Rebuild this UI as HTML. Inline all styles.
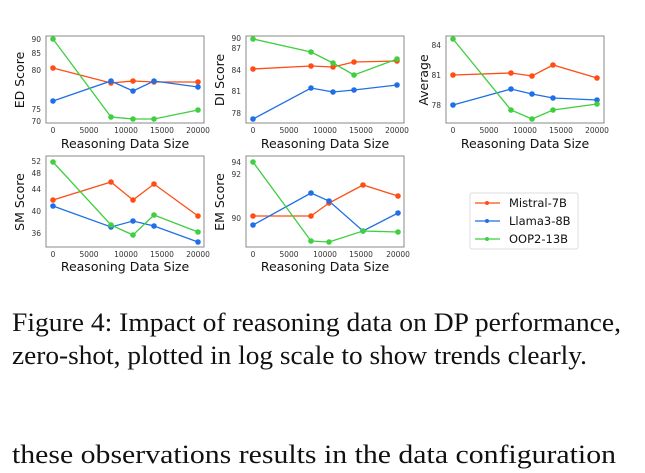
<!DOCTYPE html>
<html><head><meta charset="utf-8"><style>
body{margin:0;background:#fff;width:645px;height:473px;overflow:hidden}
svg{position:absolute;left:0;top:0}
.t{font-family:"DejaVu Sans",sans-serif;font-size:7.5px;fill:#333}
.l{font-family:"DejaVu Sans",sans-serif;font-size:12.5px;fill:#111}
.c{font-family:"Liberation Serif",serif;font-size:26px;fill:#111}
.o{stroke:#ff4d14;fill:none;stroke-width:1.3}
.b{stroke:#1f6fe8;fill:none;stroke-width:1.3}
.g{stroke:#3fcf3f;fill:none;stroke-width:1.3}
.fo{fill:#ff4d14}.fb{fill:#1f6fe8}.fg{fill:#3fcf3f}
.ax{fill:none;stroke:#888;stroke-width:1}
</style></head><body>
<svg width="645" height="473" xmlns="http://www.w3.org/2000/svg">
<!-- Panel 1 -->
<rect class="ax" x="46" y="36" width="158" height="87"/>
<g class="t" text-anchor="end"><text x="41" y="42">90</text><text x="41" y="56">85</text><text x="41" y="73">80</text><text x="41" y="112">75</text><text x="41" y="124">70</text></g>
<g class="t" text-anchor="middle"><text x="53" y="133">0</text><text x="89" y="133">5000</text><text x="126" y="133">10000</text><text x="162" y="133">15000</text><text x="198" y="133">20000</text></g>
<text class="l" x="125" y="148" text-anchor="middle">Reasoning Data Size</text>
<text class="l" transform="translate(24,80) rotate(-90)" text-anchor="middle">ED Score</text>
<polyline class="o" points="53,68 111,83 133,81 154,82 198,82"/>
<polyline class="b" points="53,101 111,81 133,91 154,81 198,87"/>
<polyline class="g" points="53,39 111,117 133,119 154,119 198,110"/>
<g class="fo"><circle cx="53" cy="68" r="2.8"/><circle cx="111" cy="83" r="2.8"/><circle cx="133" cy="81" r="2.8"/><circle cx="154" cy="82" r="2.8"/><circle cx="198" cy="82" r="2.8"/></g>
<g class="fb"><circle cx="53" cy="101" r="2.8"/><circle cx="111" cy="81" r="2.8"/><circle cx="133" cy="91" r="2.8"/><circle cx="154" cy="81" r="2.8"/><circle cx="198" cy="87" r="2.8"/></g>
<g class="fg"><circle cx="53" cy="39" r="2.8"/><circle cx="111" cy="117" r="2.8"/><circle cx="133" cy="119" r="2.8"/><circle cx="154" cy="119" r="2.8"/><circle cx="198" cy="110" r="2.8"/></g>

<!-- Panel 2 -->
<rect class="ax" x="246" y="36" width="158" height="87"/>
<g class="t" text-anchor="end"><text x="241" y="41">90</text><text x="241" y="51">87</text><text x="241" y="73">84</text><text x="241" y="94">81</text><text x="241" y="116">78</text></g>
<g class="t" text-anchor="middle"><text x="253" y="133">0</text><text x="289" y="133">5000</text><text x="325" y="133">10000</text><text x="361" y="133">15000</text><text x="397" y="133">20000</text></g>
<text class="l" x="325" y="148" text-anchor="middle">Reasoning Data Size</text>
<text class="l" transform="translate(224,80) rotate(-90)" text-anchor="middle">DI Score</text>
<polyline class="o" points="253,69 311,66 333,67 354,62 397,61"/>
<polyline class="b" points="253,119 311,88 333,92 354,90 397,85"/>
<polyline class="g" points="253,39 311,52 333,63 354,75 397,59"/>
<g class="fo"><circle cx="253" cy="69" r="2.8"/><circle cx="311" cy="66" r="2.8"/><circle cx="333" cy="67" r="2.8"/><circle cx="354" cy="62" r="2.8"/><circle cx="397" cy="61" r="2.8"/></g>
<g class="fb"><circle cx="253" cy="119" r="2.8"/><circle cx="311" cy="88" r="2.8"/><circle cx="333" cy="92" r="2.8"/><circle cx="354" cy="90" r="2.8"/><circle cx="397" cy="85" r="2.8"/></g>
<g class="fg"><circle cx="253" cy="39" r="2.8"/><circle cx="311" cy="52" r="2.8"/><circle cx="333" cy="63" r="2.8"/><circle cx="354" cy="75" r="2.8"/><circle cx="397" cy="59" r="2.8"/></g>

<!-- Panel 3 -->
<rect class="ax" x="446" y="36" width="158" height="87"/>
<g class="t" text-anchor="end"><text x="441" y="48">84</text><text x="441" y="78">81</text><text x="441" y="108">78</text></g>
<g class="t" text-anchor="middle"><text x="453" y="133">0</text><text x="489" y="133">5000</text><text x="525" y="133">10000</text><text x="561" y="133">15000</text><text x="597" y="133">20000</text></g>
<text class="l" x="525" y="148" text-anchor="middle">Reasoning Data Size</text>
<text class="l" transform="translate(428,80) rotate(-90)" text-anchor="middle">Average</text>
<polyline class="o" points="453,75 511,73 532,76 553,65 597,78"/>
<polyline class="b" points="453,105 511,89 532,94 553,98 597,100"/>
<polyline class="g" points="453,39 511,110 532,119 553,110 597,104"/>
<g class="fo"><circle cx="453" cy="75" r="2.8"/><circle cx="511" cy="73" r="2.8"/><circle cx="532" cy="76" r="2.8"/><circle cx="553" cy="65" r="2.8"/><circle cx="597" cy="78" r="2.8"/></g>
<g class="fb"><circle cx="453" cy="105" r="2.8"/><circle cx="511" cy="89" r="2.8"/><circle cx="532" cy="94" r="2.8"/><circle cx="553" cy="98" r="2.8"/><circle cx="597" cy="100" r="2.8"/></g>
<g class="fg"><circle cx="453" cy="39" r="2.8"/><circle cx="511" cy="110" r="2.8"/><circle cx="532" cy="119" r="2.8"/><circle cx="553" cy="110" r="2.8"/><circle cx="597" cy="104" r="2.8"/></g>

<!-- Panel 4 -->
<rect class="ax" x="46" y="156" width="158" height="91"/>
<g class="t" text-anchor="end"><text x="41" y="164">52</text><text x="41" y="176">48</text><text x="41" y="192">44</text><text x="41" y="214">40</text><text x="41" y="236">36</text></g>
<g class="t" text-anchor="middle"><text x="53" y="257">0</text><text x="89" y="257">5000</text><text x="126" y="257">10000</text><text x="162" y="257">15000</text><text x="198" y="257">20000</text></g>
<text class="l" x="125" y="271" text-anchor="middle">Reasoning Data Size</text>
<text class="l" transform="translate(24,202) rotate(-90)" text-anchor="middle">SM Score</text>
<polyline class="o" points="53,200 111,182 133,200 154,184 198,216"/>
<polyline class="b" points="53,206 111,227 133,221 154,226 198,242"/>
<polyline class="g" points="53,162 111,225 133,235 154,215 198,232"/>
<g class="fo"><circle cx="53" cy="200" r="2.8"/><circle cx="111" cy="182" r="2.8"/><circle cx="133" cy="200" r="2.8"/><circle cx="154" cy="184" r="2.8"/><circle cx="198" cy="216" r="2.8"/></g>
<g class="fb"><circle cx="53" cy="206" r="2.8"/><circle cx="111" cy="227" r="2.8"/><circle cx="133" cy="221" r="2.8"/><circle cx="154" cy="226" r="2.8"/><circle cx="198" cy="242" r="2.8"/></g>
<g class="fg"><circle cx="53" cy="162" r="2.8"/><circle cx="111" cy="225" r="2.8"/><circle cx="133" cy="235" r="2.8"/><circle cx="154" cy="215" r="2.8"/><circle cx="198" cy="232" r="2.8"/></g>

<!-- Panel 5 -->
<rect class="ax" x="246" y="156" width="158" height="91"/>
<g class="t" text-anchor="end"><text x="241" y="165">94</text><text x="241" y="177">92</text><text x="241" y="221">90</text></g>
<g class="t" text-anchor="middle"><text x="253" y="257">0</text><text x="289" y="257">5000</text><text x="325" y="257">10000</text><text x="361" y="257">15000</text><text x="398" y="257">20000</text></g>
<text class="l" x="325" y="271" text-anchor="middle">Reasoning Data Size</text>
<text class="l" transform="translate(224,202) rotate(-90)" text-anchor="middle">EM Score</text>
<polyline class="o" points="253,216 311,216 329,203 363,185 398,196"/>
<polyline class="b" points="253,225 311,193 329,201 363,231 398,213"/>
<polyline class="g" points="253,162 311,241 329,242 363,231 398,232"/>
<g class="fo"><circle cx="253" cy="216" r="2.8"/><circle cx="311" cy="216" r="2.8"/><circle cx="329" cy="203" r="2.8"/><circle cx="363" cy="185" r="2.8"/><circle cx="398" cy="196" r="2.8"/></g>
<g class="fb"><circle cx="253" cy="225" r="2.8"/><circle cx="311" cy="193" r="2.8"/><circle cx="329" cy="201" r="2.8"/><circle cx="363" cy="231" r="2.8"/><circle cx="398" cy="213" r="2.8"/></g>
<g class="fg"><circle cx="253" cy="162" r="2.8"/><circle cx="311" cy="241" r="2.8"/><circle cx="329" cy="242" r="2.8"/><circle cx="363" cy="231" r="2.8"/><circle cx="398" cy="232" r="2.8"/></g>

<!-- Legend -->
<rect x="470" y="193" width="108" height="56" rx="2" fill="#fff" stroke="#ddd"/>
<line class="o" x1="475" y1="203" x2="500" y2="203"/><circle class="fo" cx="487" cy="203" r="2"/>
<line class="b" x1="475" y1="221" x2="500" y2="221"/><circle class="fb" cx="487" cy="221" r="2"/>
<line class="g" x1="475" y1="239" x2="500" y2="239"/><circle class="fg" cx="487" cy="239" r="2"/>
<g class="l" style="font-size:11.5px"><text x="509" y="207">Mistral-7B</text><text x="509" y="225">Llama3-8B</text><text x="509" y="243">OOP2-13B</text></g>

<!-- Caption -->
<text class="c" x="12" y="331" textLength="609" lengthAdjust="spacingAndGlyphs">Figure 4: Impact of reasoning data on DP performance,</text>
<text class="c" x="12" y="364" textLength="575" lengthAdjust="spacingAndGlyphs">zero-shot, plotted in log scale to show trends clearly.</text>
<text class="c" x="12" y="463" textLength="604" lengthAdjust="spacingAndGlyphs">these observations results in the data configuration</text>
</svg>
</body></html>
